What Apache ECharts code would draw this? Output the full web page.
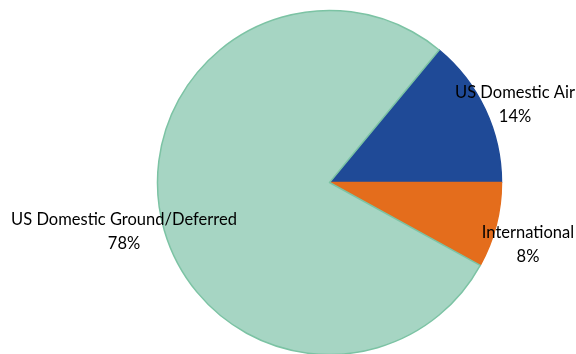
<!DOCTYPE html>
<html>
<head>
<meta charset="utf-8">
<script src="https://cdn.jsdelivr.net/npm/echarts@6/dist/echarts.min.js"></script>
<style>
  html, body { margin: 0; padding: 0; background: #fff; }
  #chart { width: 576px; height: 354px; }
</style>
</head>
<body>
<div id="chart"></div>
<script>
// Revenue mix by segment
const segments = ['US Domestic Air', 'International', 'US Domestic Ground/Deferred'];
const shares = [14, 8, 78];
const sliceColors = ['#1F4A97', '#E46D1C', '#A6D5C3'];
const sliceBorders = ['#1F4A97', '#E46D1C', '#7CC3A4'];

// Where each slice label sits (centre of the two-line block)
const labelSpots = [[515, 105], [528, 245], [124, 232]];

const chart = echarts.init(document.getElementById('chart'), null, { renderer: 'canvas' });

chart.setOption({
  animation: false,
  series: [{
    type: 'pie',
    center: [329.5, 182.5],
    radius: [0, 172],
    startAngle: 50.4,
    clockwise: true,
    data: segments.map((name, i) => ({
      name,
      value: shares[i],
      itemStyle: { color: sliceColors[i], borderColor: sliceBorders[i], borderWidth: 1.5 }
    })),
    label: {
      show: true,
      position: 'inside',
      formatter: '{b}\n{d}%',
      fontFamily: 'Lato, "Open Sans", sans-serif',
      fontSize: 16.5,
      lineHeight: 24,
      color: '#000',
      align: 'center'
    },
    labelLine: { show: false },
    labelLayout: function (params) {
      const spot = labelSpots[params.dataIndex];
      return { x: spot[0], y: spot[1], align: 'center', verticalAlign: 'middle' };
    },
    emphasis: { disabled: true }
  }]
});
</script>
</body>
</html>
